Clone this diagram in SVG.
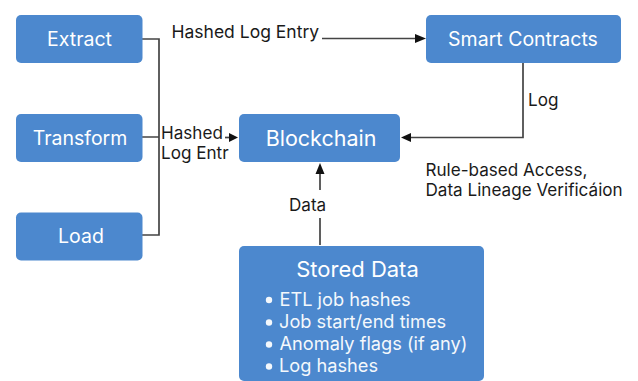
<svg xmlns="http://www.w3.org/2000/svg" width="638" height="381" viewBox="0 0 638 381">
<style>
.n{fill:#4c88ce}
text{font-family:Inter,"Liberation Sans",sans-serif}
.w{fill:#fff;text-anchor:middle;font-size:19.500px}
.l{fill:#1a1a1a;font-size:17.100px}
.s{fill:#f4f8fc;font-size:18.200px}
.c{fill:none;stroke:#444;stroke-width:1.7}
.h{fill:#111}
</style>
<rect width="638" height="381" fill="#fff"/>
<g id="connectors">
<path class="c" d="M142 39H159V235H142M142 137H159"/>
<path class="c" d="M322 38.500H418"/>
<path class="h" d="M426 38.500L415 34V43Z"/>
<path class="c" d="M225 137.500H230"/>
<path class="h" d="M238 137.500L229 133V142Z"/>
<path class="c" d="M523 63V137.500H408"/>
<path class="h" d="M401 137.500L411 133V142Z"/>
<path class="c" d="M320 245V218M320 190V172"/>
<path class="h" d="M320 163L315.500 174H324.500Z"/>
</g>
<g id="extract"><rect class="n" x="16" y="15" width="126.500" height="48" rx="5"/><text class="w" x="79.500" y="46">Extract</text></g>
<g id="transform"><rect class="n" x="16" y="114" width="126.500" height="48" rx="5"/><text class="w" x="80" y="144.500">Transform</text></g>
<g id="load"><rect class="n" x="16" y="212.500" width="126.500" height="48" rx="5"/><text class="w" x="81" y="243">Load</text></g>
<g id="blockchain"><rect class="n" x="239" y="114" width="161" height="48" rx="5"/><text class="w" x="321" y="146" style="font-size:21.500px">Blockchain</text></g>
<g id="smart-contracts"><rect class="n" x="426" y="15" width="195" height="48" rx="5"/><text class="w" x="523" y="46">Smart Contracts</text></g>
<g id="stored-data"><rect class="n" x="239" y="246" width="245" height="135" rx="5"/>
<text class="w" x="357.500" y="277" style="font-size:22px">Stored Data</text>
<circle cx="269" cy="300" r="3.200" fill="#f4f8fc"/><text class="s" x="279.500" y="305.500">ETL job hashes</text>
<circle cx="269" cy="322.500" r="3.200" fill="#f4f8fc"/><text class="s" x="279" y="328">Job start/end times</text>
<circle cx="269" cy="344.500" r="3.200" fill="#f4f8fc"/><text class="s" x="279.500" y="350">Anomaly flags (if any)</text>
<circle cx="269" cy="366.500" r="3.200" fill="#f4f8fc"/><text class="s" x="279" y="372">Log hashes</text>
</g>
<g id="labels">
<text class="l" x="171.500" y="38" style="font-size:17.500px">Hashed Log Entry</text>
<text class="l" x="161" y="139">Hashed</text>
<text class="l" x="161" y="158.500">Log Entr</text>
<text class="l" x="528" y="106">Log</text>
<text class="l" x="425.500" y="176">Rule-based Access,</text>
<text class="l" x="425.500" y="196">Data Lineage Verificáion</text>
<text class="l" x="289" y="211">Data</text>
</g>
</svg>
